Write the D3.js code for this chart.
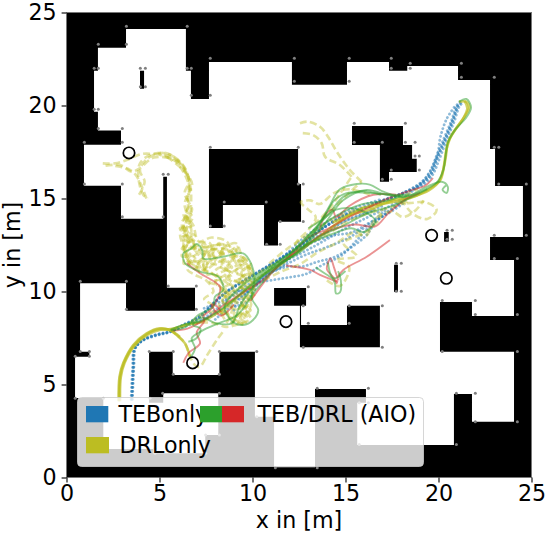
<!DOCTYPE html>
<html>
<head>
<meta charset="utf-8">
<script src="https://cdn.jsdelivr.net/npm/d3@7"></script>
<style>
  html, body { margin: 0; padding: 0; background: #fff; }
  text { font-family: "DejaVu Sans", sans-serif; font-size: 22.2px; fill: #000; }
</style>
</head>
<body>
<div class="chart-container"></div>
<script>
// Map outline, all in metres
const freeSpace = [[3.20,24.11],[6.42,24.11],[6.42,21.87],[6.69,21.87],[6.69,20.35],[7.66,20.35],[7.66,22.34],[12.12,22.34],[12.12,21.12],[15.08,21.12],[15.08,22.34],[17.34,22.34],[17.34,21.87],[18.32,21.87],[18.32,22.12],[21.05,22.12],[21.05,21.37],[22.77,21.37],[22.77,17.66],[23.04,17.66],[23.04,15.67],[24.54,15.67],[24.54,12.93],[22.77,12.93],[22.77,11.69],[24.06,11.69],[24.06,8.68],[21.80,8.68],[21.80,9.44],[20.08,9.44],[20.08,6.76],[24.06,6.76],[24.06,3.00],[21.80,3.00],[21.80,4.49],[20.83,4.49],[20.83,1.75],[15.63,1.75],[15.63,4.02],[16.10,4.02],[16.10,4.76],[13.36,4.76],[13.36,0.55],[11.16,0.55],[11.16,3.27],[10.13,3.27],[10.13,6.76],[8.22,6.76],[8.22,5.51],[5.71,5.51],[5.71,6.76],[4.44,6.76],[4.44,4.02],[5.20,4.02],[5.20,4.53],[8.16,4.53],[8.16,2.28],[7.46,2.28],[7.46,1.30],[4.67,1.30],[4.67,1.53],[1.98,1.53],[1.98,4.27],[0.46,4.27],[0.46,6.49],[1.23,6.49],[1.23,6.76],[0.73,6.76],[0.73,10.44],[3.20,10.44],[3.20,8.97],[6.91,8.97],[6.91,10.20],[5.40,10.20],[5.40,16.17],[5.20,16.17],[5.20,13.91],[2.93,13.91],[2.93,15.69],[0.94,15.69],[0.94,17.89],[2.93,17.89],[2.93,18.65],[1.69,18.65],[1.69,19.67],[1.48,19.67],[1.48,21.87],[1.69,21.87],[1.69,23.11],[3.20,23.11]];
const walls = [
  [[3.95,21.87],[4.17,21.87],[4.17,20.90],[3.95,20.90]],
  [[7.66,17.66],[12.45,17.66],[12.45,15.78],[12.61,15.78],[12.61,13.75],[11.37,13.75],[11.37,12.47],[10.62,12.47],[10.62,14.65],[8.41,14.65],[8.41,13.41],[7.66,13.41]],
  [[15.35,18.90],[18.09,18.90],[18.09,17.88],[18.58,17.88],[18.58,17.14],[18.83,17.14],[18.83,16.42],[17.34,16.42],[17.34,15.90],[16.85,15.90],[16.85,17.88],[15.35,17.88]],
  [[20.30,13.20],[20.55,13.20],[20.55,12.68],[20.30,12.68]],
  [[17.61,11.44],[17.82,11.44],[17.82,9.97],[17.61,9.97]],
  [[11.16,10.19],[12.88,10.19],[12.88,9.24],[12.61,9.24],[12.61,8.20],[15.08,8.20],[15.08,9.24],[16.85,9.24],[16.85,7.00],[12.55,7.00],[12.55,9.24],[11.16,9.24]]
];
const mapDots = [[3.22,24.26],[6.49,24.26],[1.71,23.29],[3.22,23.29],[1.49,22.0],[1.71,22.0],[3.97,22.0],[4.24,22.0],[6.49,22.0],[6.71,22.0],[3.97,21.01],[4.24,21.01],[6.71,20.55],[7.73,20.55],[7.73,22.54],[12.25,22.54],[12.25,21.3],[1.49,19.8],[1.71,19.8],[1.71,18.77],[3.0,18.77],[0.96,18.02],[3.0,18.02],[0.96,15.78],[3.0,15.78],[3.0,14.02],[5.2,14.02],[5.2,16.3],[5.47,16.3],[7.73,17.75],[12.46,17.75],[12.46,15.78],[8.48,14.81],[10.74,14.81],[11.49,13.77],[7.73,13.52],[8.48,13.52],
  [15.2,22.54],[17.46,22.54],[18.48,22.27],[21.23,22.27],[17.46,22.0],[18.48,22.0],[15.2,21.3],[21.23,21.52],[23.0,21.52],[15.47,19.04],[18.22,19.04],[15.47,18.02],[16.98,18.02],[18.22,18.02],[18.74,18.02],[18.74,17.28],[18.97,17.28],[18.97,16.53],[17.46,16.53],[16.98,16.03],[17.46,16.03],[23.0,17.75],[23.24,17.75],[23.24,15.78],[24.72,15.78],[12.73,15.78],[12.73,13.77],[23.0,13.02],[24.72,13.02],[20.46,13.29],[20.74,13.29],[20.46,12.81],[20.74,12.81],
  [23.0,11.78],[24.24,11.78],[17.73,11.52],[18.0,11.52],[17.73,10.01],[18.0,10.01],[13.0,10.26],[12.73,9.24],[15.2,9.24],[16.98,9.24],[13.0,8.29],[15.2,8.29],[12.73,7.0],[16.98,7.0],[20.2,9.51],[21.98,9.51],[21.98,8.77],[24.24,8.77],[20.2,6.77],[24.24,6.77],[20.96,4.53],[21.98,4.53],[21.98,3.0],[24.24,3.0],[20.96,1.78],[13.48,4.8],[16.23,4.8],[15.74,4.02],[16.23,4.02],[15.74,1.78],[13.48,0.53],
  [0.74,10.55],[3.22,10.55],[5.47,10.3],[6.98,10.3],[3.22,9.04],[6.98,9.04],[0.74,6.77],[1.23,6.77],[0.47,6.52],[1.23,6.52],[4.45,6.77],[5.74,6.77],[8.22,6.77],[10.23,6.77],[5.74,5.55],[8.22,5.55],[8.22,4.53],[5.17,4.53],[0.47,4.26],[10.76,12.54],[11.49,12.54],
  [1.98,4.26],[4.49,4.26],[7.48,2.28],[8.22,2.28],[4.76,1.3],[7.48,1.3],[1.98,1.56],[4.76,1.56],[11.23,0.53],[10.23,3.27],[11.23,3.27]
];
// Obstacles standing in the map
const circles = [[3.36,17.45],[19.63,13.02],[20.42,10.71],[11.80,8.38],[6.78,6.16]];

// Trajectories
const tebPaths = [
  [[3.5,4.2],[3.59,5.96],[3.68,6.94],[4.13,7.39],[4.85,7.66],[5.56,7.84],[6.28,8.2],[7.18,8.65],[7.89,9.37],[8.61,9.99],[9.5,10.55],[10.4,11.1],[11.47,11.75],[12.73,12.6],[13.63,13.3],[14.88,14.05],[16.0,14.5],[17.0,14.9],[18.0,15.2],[19.17,15.83],[19.63,16.37],[19.9,17.07],[20.35,18.15],[20.78,19.2],[21.07,20.03],[21.3,20.2]],
  [[3.47,4.2],[3.55,5.9],[3.64,6.9],[4.1,7.36],[4.8,7.62],[5.5,7.8],[6.25,8.14],[7.12,8.6],[7.85,9.3],[8.56,9.93],[9.44,10.5],[10.35,11.05],[11.42,11.7],[12.66,12.55],[13.57,13.25],[14.8,14.0],[15.9,14.42],[16.95,14.85],[18.0,15.25],[19.1,15.9],[19.55,16.42],[19.82,17.1],[20.28,18.2],[20.72,19.25],[21.0,20.05],[21.25,20.25]],
  [[3.55,4.2],[3.63,6.0],[3.72,6.98],[4.16,7.42],[4.9,7.7],[5.6,7.88],[6.33,8.24],[7.23,8.72],[7.95,9.42],[8.68,10.05],[9.55,10.62],[10.46,11.16],[11.52,11.82],[12.8,12.66],[13.7,13.36],[14.95,14.12],[16.05,14.55],[17.1,14.95],[18.1,15.3],[19.25,15.78],[19.7,16.3],[20.0,17.0],[20.42,18.1],[20.85,19.15],[21.15,20.0],[21.35,20.15]],
  [[3.52,4.2],[3.6,5.9],[3.66,6.92],[4.12,7.4],[4.82,7.68],[5.54,7.82],[6.3,8.18],[7.16,8.63],[7.9,9.34],[8.6,9.96],[9.48,10.52],[10.38,11.08],[11.45,11.72],[12.7,12.58],[13.6,13.28],[14.85,14.03],[15.95,14.46],[17.02,14.88],[18.05,15.28],[19.14,15.86],[19.6,16.34],[19.86,17.03],[20.32,18.12],[20.75,19.18],[21.04,20.0]],
  [[5.6,7.9],[7.1,8.4],[8.0,9.0],[9.1,9.95],[10.3,10.7],[11.5,11.5],[12.7,12.1],[13.8,12.7],[15.0,13.4],[16.2,14.0],[17.3,14.55],[18.2,15.1],[19.0,15.75],[19.5,16.4],[19.95,17.4],[20.1,18.3],[20.45,19.3],[20.95,20.05]],
  [[9.0,10.0],[9.6,10.1],[10.4,10.5],[10.9,10.95],[11.84,11.33],[12.7,11.35],[13.5,11.6],[14.4,11.85],[15.2,12.3],[16.1,13.0],[16.6,13.7],[17.4,14.4],[18.3,15.1]],
  [[9.4,9.4],[9.6,9.8],[10.1,10.4],[11.0,10.6],[11.9,10.75],[12.9,10.95],[13.8,11.45],[14.8,11.95],[15.6,12.75],[16.3,13.5],[17.2,14.2],[18.2,14.9]],
  [[12.2,12.2],[13.1,12.6],[14.3,13.0],[15.4,13.2],[16.3,13.7],[17.3,14.2],[18.2,14.8]],
  [[9.0,9.0],[9.3,9.6],[9.9,10.1],[10.8,10.9],[11.8,11.45],[12.8,11.95],[13.9,12.35],[15.1,12.85],[16.1,13.5],[17.2,14.4]],
  [[7.4,9.1],[8.6,9.6],[9.6,10.15],[10.7,10.95],[11.7,11.9],[12.9,13.0],[14.1,13.8],[15.4,14.45],[16.9,14.95]],
  [[7.0,8.3],[8.2,8.9],[9.2,9.6],[10.0,10.2],[11.0,11.1],[12.2,12.05],[13.4,12.75],[14.6,13.6],[15.8,14.1],[17.0,14.6]],
  [[8.0,8.5],[8.9,9.2],[9.5,9.3],[10.0,9.9],[10.5,10.8],[11.5,11.3],[12.6,12.4],[13.9,13.2],[15.2,13.9],[16.5,14.35]]
];
const drlPaths = [
  [[5.56,7.93],[5.92,7.66],[6.37,7.21],[6.64,6.5],[6.95,6.0],[7.18,5.96],[7.57,6.59],[8.08,7.39],[8.41,7.84]],
  [[5.6,7.95],[6.6,8.3],[7.4,8.8],[8.2,8.9],[9.0,8.5],[9.4,8.25],[9.6,8.7],[9.9,9.2],[10.0,9.9],[10.15,10.5],[10.0,11.0],[9.5,11.7],[8.9,12.4],[8.1,12.5],[7.2,12.4],[6.6,12.8],[6.3,13.6],[6.5,14.4],[6.55,15.1],[6.55,16.17],[6.19,16.89],[5.39,17.43],[4.49,17.34],[3.95,16.89],[3.86,16.17],[4.13,15.19],[4.4,15.01]],
  [[8.3,8.8],[8.7,9.6],[8.4,10.4],[7.8,11.0],[7.0,11.3],[6.4,11.9],[6.3,12.9],[6.6,13.8],[6.7,14.8],[6.65,15.7],[6.3,16.7],[5.6,17.25],[4.6,17.4],[4.04,17.39],[3.24,17.07],[2.61,16.89],[1.95,16.89]],
  [[9.5,8.2],[9.0,8.8],[9.6,9.4],[9.1,10.0],[9.7,10.6],[9.1,11.1],[9.7,11.6],[8.9,11.7],[9.2,12.4],[8.4,12.0],[8.2,12.6],[7.7,11.9],[7.4,12.6],[7.0,12.1],[6.7,13.0],[6.4,12.4],[6.1,13.1],[6.5,13.9],[6.35,14.7],[6.6,15.5],[6.3,16.4],[5.7,17.1],[4.7,17.2],[3.9,16.6],[3.51,16.44],[2.88,16.8],[1.98,16.74]],
  [[8.5,8.5],[8.2,9.3],[8.6,9.9],[8.0,10.5],[8.6,11.0],[7.8,11.5],[7.2,11.0],[6.9,11.6],[6.3,11.5],[6.7,12.4],[7.4,12.0],[8.0,12.3],[8.6,11.6],[9.2,11.9],[9.9,11.5],[9.4,11.0],[10.1,10.4],[9.5,9.9],[9.9,9.4],[9.3,8.9],[8.9,8.2]],
  [[8.8,8.3],[9.4,8.8],[8.7,9.3],[9.1,9.7],[8.3,10.1],[8.9,10.5],[8.1,10.9],[8.9,11.3],[8.2,11.6],[7.5,11.2],[7.7,12.0],[6.9,12.3],[6.2,12.3],[6.9,13.0],[6.3,13.3],[6.8,14.0],[6.4,14.3]],
  [[9.2,8.4],[8.5,9.0],[9.2,9.4],[8.5,9.8],[9.5,10.3],[8.7,10.8],[9.4,11.4],[8.4,11.3],[8.4,12.1],[7.6,11.6],[7.0,12.0],[6.5,11.2],[6.9,10.9],[7.5,10.6],[7.9,10.0],[7.4,9.6],[8.1,9.2]],
  [[5.6,7.9],[6.8,8.3],[7.9,8.3],[8.6,8.1],[9.1,8.2],[9.8,8.5],[9.3,9.1],[9.8,9.6],[10.0,10.5],[9.2,10.5],[9.8,11.2],[9.0,12.0],[8.6,12.7],[7.8,12.9],[7.1,12.7],[6.8,13.6],[6.45,14.0]],
  [[9.9,8.6],[9.5,9.6],[10.1,9.8],[9.3,10.3],[9.9,10.9],[9.2,11.4],[8.7,12.2],[8.0,11.8],[7.7,12.6],[6.9,12.7],[6.4,13.6],[6.75,14.4],[6.5,15.0],[6.75,15.8],[6.2,16.6],[5.3,17.3]],
  [[8.6,8.3],[8.9,9.1],[8.4,9.5],[9.0,10.1],[8.4,10.7],[8.9,10.9],[8.3,11.3],[7.6,10.9],[7.3,11.5],[6.6,11.8],[6.3,12.6],[6.75,12.7],[6.1,13.4],[6.7,13.5],[6.3,14.1],[6.6,14.6],[6.35,15.3],[6.6,16.0],[6.0,16.95],[5.0,17.35]],
  [[9.7,8.3],[9.2,8.7],[9.9,9.0],[9.0,9.5],[9.6,10.1],[8.8,10.4],[9.5,10.8],[8.6,11.2],[9.0,11.9],[8.0,11.6],[8.5,12.5],[7.5,12.3],[7.3,11.2],[6.8,11.9],[6.2,11.9],[6.5,12.6],[6.2,13.7],[6.6,14.2]],
  [[8.2,9.0],[8.7,8.7],[8.3,9.8],[8.8,9.7],[8.2,10.3],[7.7,10.5],[8.3,10.7],[7.4,11.2],[7.9,11.9],[7.2,11.7],[6.9,11.2],[6.4,12.2],[7.1,12.4],[7.8,12.3],[8.8,12.2],[9.5,11.3],[10.0,11.2],[9.6,10.4],[10.1,10.1],[9.7,9.2],[9.2,8.3]],
  [[6.45,14.1],[6.7,13.2],[6.2,12.9],[6.9,12.4],[6.4,11.7],[7.1,11.5],[7.6,12.2],[8.3,12.3],[9.1,12.6],[9.4,12.0],[9.95,11.1],[9.3,10.7],[9.9,10.0],[9.4,9.5],[9.7,8.9]],
  [[4.3,15.0],[3.98,15.8],[3.7,16.3],[3.3,16.6],[2.6,16.75]],
  [[3.9,15.2],[4.2,15.9],[3.95,16.5],[4.3,17.1],[5.1,17.45],[5.9,17.15],[6.45,16.3]],
  [[10.3,11.0],[11.3,11.55],[12.4,12.2],[13.6,12.95],[14.5,13.6],[15.3,14.2],[16.3,14.55],[17.4,14.8],[18.4,14.75],[19.3,14.8],[19.9,14.4],[19.4,13.9],[18.6,14.2],[18.1,15.0],[18.9,15.5]],
  [[10.6,10.6],[11.6,11.1],[12.6,11.5],[13.5,12.1],[14.5,12.6],[15.5,13.2],[16.1,13.0],[16.6,13.9],[17.5,14.3],[18.1,14.0],[18.8,14.4],[19.2,14.9]],
  [[11.2,11.2],[12.0,11.9],[12.4,12.7],[13.0,13.3],[13.4,14.0],[13.0,14.4],[12.6,14.8],[13.1,14.9],[13.6,14.7],[14.4,15.3],[15.2,15.5],[16.3,15.2]],
  [[14.0,10.6],[14.7,10.3],[15.2,11.3],[14.5,11.7],[15.6,11.9],[14.9,12.6],[16.1,13.2],[16.9,14.1],[16.1,14.6]],
  [[15.87,15.9],[15.24,16.53],[14.53,17.52],[14.06,18.32],[13.63,18.86],[12.98,19.13],[12.55,19.05]],
  [[15.33,16.17],[14.7,16.8],[13.9,17.25],[13.72,17.97],[13.26,18.41],[12.55,18.52]],
  [[13.7,13.9],[14.5,14.6],[15.3,15.4],[15.87,15.9]],
  [[13.3,13.6],[14.1,14.4],[14.8,15.4],[15.33,16.17]],
  [[10.9,11.5],[12.0,12.4],[13.1,13.1],[14.3,13.9],[15.6,14.4],[16.9,14.8],[18.0,15.0]],
  [[11.5,11.4],[12.7,12.4],[13.9,13.0],[15.0,13.7],[16.2,14.2],[17.4,14.5],[18.5,14.9]]
];
const drlDense = [
  [[2.8,4.1],[2.85,5.42],[3.05,6.15],[3.59,7.12],[4.31,7.75],[5.03,8.02],[5.56,7.93],[5.92,7.66],[6.37,7.21],[6.64,6.5]],
  [[2.88,4.1],[2.92,5.4],[3.12,6.15],[3.65,7.08],[4.37,7.68],[5.05,7.94],[5.6,7.98],[6.4,8.2],[7.2,8.35],[8.2,8.9],[9.2,9.7],[10.3,10.7],[11.5,11.5],[12.7,12.3],[13.8,13.1],[14.9,13.9],[16.0,14.5],[17.2,14.75],[18.4,15.0],[19.3,15.4],[20.0,15.9],[20.27,16.6],[20.4,17.3],[20.5,18.0],[20.9,18.7],[21.4,19.4],[21.65,19.9],[21.5,20.2],[21.1,20.2]],
  [[2.84,4.1],[2.88,5.4],[3.08,6.15],[3.62,7.1],[4.34,7.72],[5.0,7.98],[5.6,7.9],[6.1,7.55]],
  [[14.3,13.7],[15.2,14.1],[16.3,14.4],[17.5,14.9],[18.6,15.1],[19.5,15.45],[20.1,16.0],[20.3,16.8],[20.42,17.6],[20.7,18.4],[21.3,19.25],[21.55,19.85],[21.4,20.25]]
];
const greenPaths = [
  [[5.6,7.95],[6.4,8.25],[7.2,8.4],[8.4,9.1],[9.4,9.9],[10.4,10.75],[11.6,11.55],[12.7,12.35],[13.63,13.68],[14.17,14.65],[14.7,15.5],[15.6,15.78],[16.3,15.75],[17.03,15.37],[18.0,15.1],[19.1,15.4],[19.9,15.85],[20.25,16.5],[20.38,17.3],[20.5,18.0],[20.9,18.7],[21.45,19.3],[21.75,19.9],[21.5,20.35],[21.1,20.2]],
  [[6.64,6.42],[6.91,6.94],[6.73,7.48],[7.3,7.9],[8.2,8.3],[9.2,8.75],[10.2,10.1],[11.2,11.2],[12.4,12.1],[13.63,13.3],[14.87,14.9],[16.13,15.46],[17.2,15.2],[18.3,15.1],[19.3,15.6],[20.17,15.9],[20.5,15.63],[20.44,15.3],[20.22,15.46],[20.4,15.7]],
  [[5.6,7.9],[6.4,8.1],[7.1,8.75],[7.89,9.18],[7.98,9.72],[8.43,10.08],[8.16,10.8],[7.18,11.07],[6.37,11.52],[6.28,12.05],[6.7,12.3],[7.0,12.55],[7.3,12.2],[7.35,11.78],[8.41,11.87],[9.5,12.05],[9.96,11.42],[10.1,10.7],[9.96,9.63],[10.31,9.0],[10.03,8.47],[9.5,8.2],[8.9,8.4],[8.5,9.2],[9.3,10.2],[10.4,11.0],[11.6,11.75],[12.7,12.6],[13.8,13.6],[14.9,14.3],[15.9,14.7],[17.3,14.9],[18.1,15.2]],
  [[6.55,7.3],[7.0,7.5],[7.2,8.0],[6.8,8.2],[7.3,8.6],[8.0,8.3],[8.9,8.3],[9.3,9.2],[10.0,10.2],[10.7,11.0],[11.7,11.7],[12.5,12.5],[13.4,13.4],[14.2,14.3],[14.9,15.1],[15.9,15.4],[16.9,15.2]],
  [[10.0,10.6],[11.0,11.3],[12.1,12.1],[13.3,12.7],[14.3,13.1],[15.3,13.4],[16.0,13.2],[16.6,13.8],[15.7,14.4],[14.5,14.4],[13.8,13.9],[13.0,13.4]],
  [[11.4,11.5],[12.4,12.0],[13.5,12.9],[14.8,13.5],[16.2,14.2],[17.5,14.6],[18.4,15.0],[19.4,15.5]],
  [[14.06,11.53],[14.17,11.0],[14.43,10.45],[14.49,9.9],[14.7,9.95],[14.75,10.6],[14.6,11.1]],
  [[13.4,11.3],[14.0,10.9],[14.4,10.7],[15.0,11.1]],
  [[12.3,12.3],[13.2,13.2],[13.9,14.1],[14.4,14.9],[15.1,15.3],[16.2,15.3],[17.4,15.2],[18.4,15.2]]
];
const redPaths = [
  [[6.28,6.17],[6.55,6.68],[7.18,7.21],[7.0,7.8],[7.4,8.4],[7.35,8.65],[7.72,9.0],[8.16,9.72],[8.25,10.26],[7.18,10.98],[6.46,11.52]],
  [[5.7,7.9],[6.5,8.0],[7.6,8.6],[8.5,9.3],[9.5,9.95],[10.4,10.5],[11.2,11.2],[12.2,12.1],[13.0,12.9],[13.9,13.3],[15.0,13.9],[16.2,14.5],[17.3,15.0],[18.4,15.4],[19.3,15.7],[19.7,16.1]],
  [[9.9,9.5],[10.7,10.6],[11.6,11.6],[12.8,12.4],[13.6,13.0],[14.5,13.4],[15.5,13.6],[16.6,13.5],[17.3,14.2],[18.3,15.0],[19.0,15.3]],
  [[17.39,12.77],[16.14,11.87],[14.88,11.16],[14.61,10.8],[14.53,10.44],[14.4,10.7],[14.0,11.2],[14.2,11.78],[14.38,11.3],[14.61,10.6]],
  [[11.8,11.4],[13.1,11.16],[13.63,10.89],[14.53,10.53]],
  [[13.6,13.3],[13.9,14.1],[14.3,14.4],[14.5,14.0],[15.2,14.6],[16.5,15.2],[17.7,15.2]],
  [[8.3,8.9],[8.1,9.2],[7.8,9.3],[8.3,8.7],[9.0,9.3]]
];

// Legend entries
const legendLabels = ["TEBonly", "DRLonly", "TEB/DRL (AIO)"];
const colors = { teb: "#1f77b4", drl: "#bcbd22", aioA: "#2ca02c", aioB: "#d62728" };
const xTicks = [0, 5, 10, 15, 20, 25], yTicks = [0, 5, 10, 15, 20, 25];

const width = 548, height = 536;
const margin = { top: 12.5, right: 16.5, bottom: 58.5, left: 66.5 };

let svg = d3.select('.chart-container').append('svg')
  .attr("width", width).attr("height", height)
  .style("display", "block");

// Scale
const x = d3.scaleLinear().domain([0, 25]).range([margin.left, width - margin.right]);
const y = d3.scaleLinear().domain([0, 25]).range([height - margin.bottom, margin.top]);

const outline = d3.line().x(d => x(d[0])).y(d => y(d[1])).curve(d3.curveLinearClosed);
const track = d3.line().x(d => x(d[0])).y(d => y(d[1])).curve(d3.curveCatmullRom.alpha(0.5));

// Draw map
svg.append("rect")
  .attr("x", x(0)).attr("y", y(25))
  .attr("width", x(25) - x(0)).attr("height", y(0) - y(25))
  .attr("fill", "#000");
svg.append("path").attr("d", outline(freeSpace)).attr("fill", "#fff");
svg.append("g").selectAll("path")
  .data(walls)
  .enter().append("path")
  .attr("d", outline)
  .attr("fill", "#000");
svg.append("g").selectAll("circle")
  .data(mapDots)
  .enter().append("circle")
  .attr("cx", d => x(d[0])).attr("cy", d => y(d[1]))
  .attr("r", 1.5)
  .attr("fill", "#808080");

// Draw tracks
function drawTracks(paths, color, lineWidth, dash, alpha, cap) {
  svg.append("g").selectAll("path")
    .data(paths)
    .enter().append("path")
    .attr("d", track)
    .attr("fill", "none")
    .attr("stroke", color)
    .attr("stroke-width", lineWidth)
    .attr("stroke-linecap", cap)
    .attr("stroke-dasharray", dash)
    .attr("opacity", alpha);
}
drawTracks(tebPaths, colors.teb, 2.8, "0.1 3.9", 0.5, "round");
drawTracks(drlPaths, colors.drl, 2.6, "7 3.5", 0.42, "butt");
drawTracks(drlDense, colors.drl, 2.6, null, 0.7, "butt");
drawTracks(redPaths, colors.aioB, 1.9, null, 0.5, "butt");
drawTracks(greenPaths, colors.aioA, 1.9, null, 0.5, "butt");

// Obstacle circles
svg.append("g").selectAll("circle")
  .data(circles)
  .enter().append("circle")
  .attr("cx", d => x(d[0])).attr("cy", d => y(d[1]))
  .attr("r", 5.7)
  .attr("fill", "none")
  .attr("stroke", "#000")
  .attr("stroke-width", 1.7);

// Frame
svg.append("rect")
  .attr("x", x(0)).attr("y", y(25))
  .attr("width", x(25) - x(0)).attr("height", y(0) - y(25))
  .attr("fill", "none")
  .attr("stroke", "#777")
  .attr("stroke-width", 1);

// Axes
const xAxis = d3.axisBottom(x).tickValues(xTicks).tickSize(4.9).tickPadding(3.2).tickSizeOuter(0);
const yAxis = d3.axisLeft(y).tickValues(yTicks).tickSize(4.9).tickPadding(5).tickSizeOuter(0);
svg.append("g").attr("transform", `translate(0,${y(0)})`).call(xAxis);
svg.append("g").attr("transform", `translate(${x(0)},0)`).call(yAxis);
svg.selectAll(".tick line").attr("stroke", "#000").attr("stroke-width", 1.1);
svg.selectAll(".domain").remove();
svg.selectAll(".tick text").style("font-size", "22.2px").style("font-family", '"DejaVu Sans"');

// Axis titles
svg.append("text").text("x in [m]")
  .attr("x", x(12.5)).attr("y", 527.5).attr("text-anchor", "middle");
svg.append("text").text("y in [m]")
  .attr("text-anchor", "middle")
  .attr("transform", `translate(20,${y(12.5)}) rotate(-90)`);

// Legend
const legend = svg.append("g").attr("id", "legend");
legend.append("rect")
  .attr("x", 77.5).attr("y", 397.5)
  .attr("width", 346).attr("height", 69)
  .attr("rx", 4).attr("ry", 4)
  .attr("fill", "#fff").attr("fill-opacity", 0.8)
  .attr("stroke", "#ccc").attr("stroke-opacity", 0.8);
function legendText(string, xPos, yPos) {
  legend.append("text").text(string).attr("x", xPos).attr("y", yPos);
}
function legendPatch(color, xPos, yPos, w) {
  legend.append("rect")
    .attr("x", xPos).attr("y", yPos)
    .attr("width", w).attr("height", 16.3)
    .attr("fill", color);
}
legendText(legendLabels[0], 118.5, 421.7);
legendText(legendLabels[1], 119.5, 452.7);
legendText(legendLabels[2], 257.5, 421.7);
legendPatch(colors.teb, 86, 406, 22.3);
legendPatch(colors.drl, 86, 437, 23);
legendPatch(colors.aioA, 200, 406, 22);
legendPatch(colors.aioB, 222, 406, 22);
</script>
</body>
</html>
